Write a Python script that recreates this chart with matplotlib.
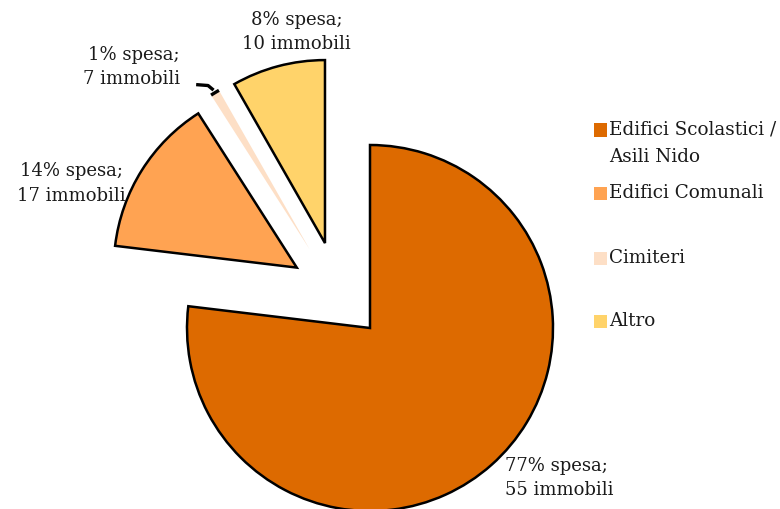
import numpy as np
import matplotlib.pyplot as plt
from matplotlib.patches import Arc, Rectangle

plt.rcParams['font.family'] = ['DejaVu Serif']

# data
categories = ['Edifici Scolastici /\nAsili Nido', 'Edifici Comunali', 'Cimiteri', 'Altro']
spesa = [76.9, 14.05, 0.8, 8.25]
immobili = [55, 17, 7, 10]
pct_labels = ['77%', '14%', '1%', '8%']
colors = ['#DD6A00', '#FFA352', '#FDDFC6', '#FFD36A']

W, H = 780, 509
fig = plt.figure(figsize=(W / 100, H / 100), dpi=100)
ax = fig.add_axes([0, 0, 1, 1])

wedges, _ = ax.pie(spesa, colors=colors, startangle=90, counterclock=False,
                   radius=1, wedgeprops=dict(edgecolor='black', linewidth=1.8))

# exploded slices (offsets)
offsets = [(0, 0), (-0.40, 0.33), (-0.33, 0.43), (-0.246, 0.464)]
for w, (dx, dy) in zip(wedges, offsets):
    w.set_center((dx, dy))

# the tiny slice only has its outer arc outlined
w = wedges[2]
w.set_edgecolor('none')
ax.add_patch(Arc(w.center, 2 * w.r, 2 * w.r, theta1=w.theta1, theta2=w.theta2,
                 color='black', linewidth=2.4))
ax.plot([-0.95, -0.885, -0.855], [1.33, 1.325, 1.30], color='black',
        linewidth=2.4, solid_capstyle='butt', solid_joinstyle='round')

# labels
label_pos = [(0.74, -0.82, 'left'), (-1.63, 0.79, 'center'),
             (-1.04, 1.426, 'right'), (-0.40, 1.617, 'center')]
for (x, y, ha), p, n in zip(label_pos, pct_labels, immobili):
    ax.text(x, y, f'{p} spesa;\n{n} immobili', ha=ha, va='center',
            fontsize=13, color='#1a1a1a', linespacing=1.45)

ax.set_xlim(-370 / 183, 410 / 183)
ax.set_ylim(-181 / 183, 328 / 183)
ax.set_aspect('equal')
ax.axis('off')

# legend drawn by hand (first line of each entry, in pixels from top)
leg_y = [130, 193, 258, 321]
for label, c, y in zip(categories, colors, leg_y):
    fig.patches.append(Rectangle((594 / W, 1 - (y + 6.5) / H), 13 / W, 13 / H,
                                 transform=fig.transFigure, facecolor=c,
                                 edgecolor='none'))
    for i, line in enumerate(label.split('\n')):
        fig.text(609 / W, 1 - (y + i * 27) / H, line, va='center', ha='left',
                 fontsize=13.2, color='#1a1a1a')

fig.savefig('out.png', dpi=100)
